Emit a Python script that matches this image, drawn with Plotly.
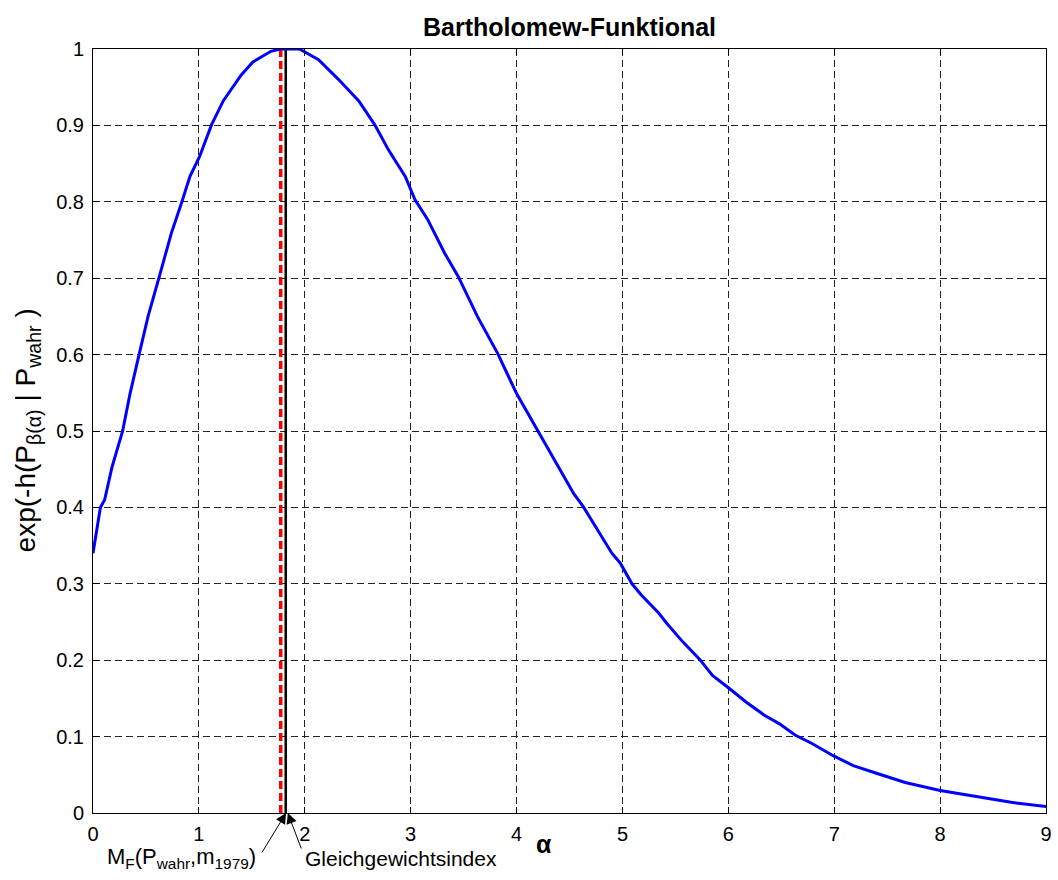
import plotly.graph_objects as go

# Bartholomew functional over alpha
alpha = [0.0, 0.07, 0.11, 0.18, 0.28, 0.35, 0.44, 0.52, 0.63, 0.74, 0.835, 0.915,
         1.006, 1.12, 1.23, 1.40, 1.51, 1.68, 1.77, 1.85, 1.95, 2.13, 2.32, 2.51,
         2.66, 2.79, 2.95, 3.04, 3.16, 3.32, 3.45, 3.63, 3.82, 4.0, 4.20, 4.32,
         4.46, 4.54, 4.63, 4.76, 4.90, 4.98, 5.09, 5.18, 5.34, 5.42, 5.57, 5.73,
         5.85, 6.01, 6.17, 6.34, 6.48, 6.63, 6.79, 6.99, 7.18, 7.42, 7.67, 8.0,
         8.35, 8.67, 9.0]
functional = [0.34, 0.40, 0.41, 0.453, 0.50, 0.549, 0.603, 0.65, 0.704, 0.759, 0.798, 0.833,
              0.859, 0.901, 0.932, 0.966, 0.983, 0.997, 1.0, 1.0, 1.0, 0.986, 0.96, 0.932,
              0.901, 0.868, 0.833, 0.803, 0.777, 0.733, 0.702, 0.65, 0.602, 0.549, 0.501, 0.471,
              0.438, 0.418, 0.401, 0.372, 0.34, 0.327, 0.30, 0.285, 0.262, 0.248, 0.224, 0.201,
              0.180, 0.163, 0.145, 0.128, 0.117, 0.102, 0.091, 0.075, 0.062, 0.051, 0.040, 0.0295,
              0.021, 0.014, 0.0085]

# marked alpha values
alpha_mf = 1.773          # M_F(P_wahr, m_1979)
alpha_equilibrium = 1.82  # Gleichgewichtsindex

x_ticks = [0, 1, 2, 3, 4, 5, 6, 7, 8, 9]
y_ticks = [0, 0.1, 0.2, 0.3, 0.4, 0.5, 0.6, 0.7, 0.8, 0.9, 1]
y_tick_text = ["0", "0.1", "0.2", "0.3", "0.4", "0.5", "0.6", "0.7", "0.8", "0.9", "1"]

W, H = 1058, 880
L, R, T, B = 93, 6, 49, 67
FONT = "Liberation Sans, Arial, sans-serif"


def px_to_paper(px, py):
    return (px - L) / (W - L - R), (H - B - py) / (H - T - B)


fig = go.Figure()

fig.add_trace(go.Scatter(x=[alpha_equilibrium, alpha_equilibrium], y=[0, 1], mode="lines",
                         line=dict(color="black", width=2.5), showlegend=False, hoverinfo="skip"))
fig.add_trace(go.Scatter(x=[alpha_mf, alpha_mf], y=[0, 1], mode="lines",
                         line=dict(color="#ff0000", width=3.5, dash="8px,4px"), showlegend=False,
                         hoverinfo="skip"))
fig.add_trace(go.Scatter(x=alpha, y=functional, mode="lines",
                         line=dict(color="#0000ff", width=3), showlegend=False))

axis_common = dict(
    showline=True, linecolor="black", linewidth=1, mirror="allticks",
    ticks="inside", ticklen=6, tickcolor="black", tickwidth=1,
    showgrid=True, gridcolor="#222222", gridwidth=1, griddash="7px,4px",
    zeroline=False, tickfont=dict(family=FONT, size=20, color="black"),
)

fig.update_xaxes(range=[0, 9], tickvals=x_ticks, ticklabelstandoff=3, **axis_common)
fig.update_yaxes(range=[0, 1], tickvals=y_ticks, ticktext=y_tick_text, ticklabelstandoff=4,
                 **axis_common)

annotations = []

# title
tx, ty = px_to_paper(572, 27)
annotations.append(dict(text="<b>Bartholomew-Funktional</b>", x=tx, y=ty, xref="paper",
                        yref="paper", showarrow=False, xanchor="center", yanchor="middle",
                        font=dict(family=FONT, size=25, color="black")))

# y axis label
lx, ly = px_to_paper(28, 430)
annotations.append(dict(text="exp(-h(P<sub>β(α)</sub> | P<sub>wahr</sub> )", x=lx, y=ly,
                        xref="paper", yref="paper", showarrow=False, textangle=-90,
                        xanchor="center", yanchor="middle",
                        font=dict(family=FONT, size=28, color="black")))

# x axis label
ax_, ay_ = px_to_paper(547, 844)
annotations.append(dict(text="<b>α</b>", x=ax_, y=ay_, xref="paper", yref="paper",
                        showarrow=False, xanchor="center", yanchor="middle",
                        font=dict(family=FONT, size=25, color="black")))

# arrows to the marked alpha values
annotations.append(dict(x=alpha_mf + 0.05, y=0, xref="x", yref="y", text="", showarrow=True,
                        ax=-25, ay=41, arrowhead=2, arrowsize=2.1, arrowwidth=1,
                        arrowcolor="black", standoff=0))
annotations.append(dict(x=alpha_equilibrium + 0.02, y=0, xref="x", yref="y", text="",
                        showarrow=True, ax=14, ay=37, arrowhead=2, arrowsize=2.1, arrowwidth=1,
                        arrowcolor="black", standoff=0))

mx, my = px_to_paper(259, 858)
annotations.append(dict(text="M<sub>F</sub>(P<sub>wahr</sub>,m<sub>1979</sub>)", x=mx, y=my,
                        xref="paper", yref="paper", showarrow=False, xanchor="right",
                        yanchor="middle", font=dict(family=FONT, size=22, color="black")))
gx, gy = px_to_paper(304, 858)
annotations.append(dict(text="Gleichgewichtsindex", x=gx, y=gy, xref="paper", yref="paper",
                        showarrow=False, xanchor="left", yanchor="middle",
                        font=dict(family=FONT, size=21, color="black")))

fig.update_layout(
    width=W, height=H,
    margin=dict(l=L, r=R, t=T, b=B, pad=0),
    paper_bgcolor="white", plot_bgcolor="white",
    annotations=annotations,
    showlegend=False,
)

fig.write_html("out.html")
